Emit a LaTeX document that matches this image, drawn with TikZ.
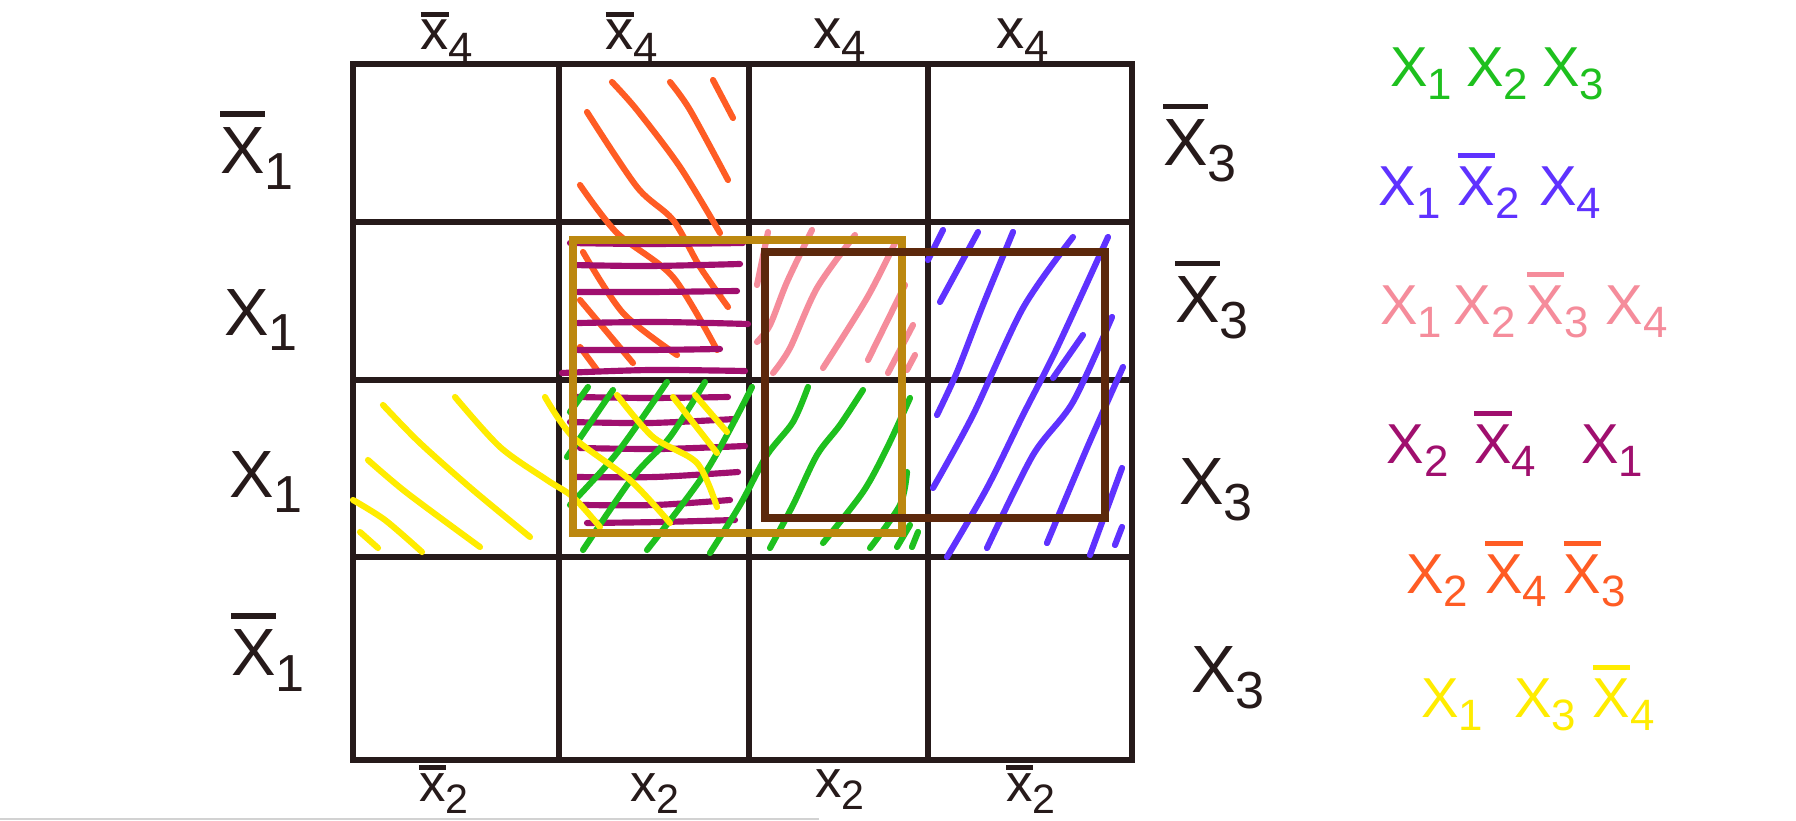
\documentclass[tikz,border=0pt]{standalone}
\usepackage{fontspec}
\setmainfont{Liberation Sans}
\usepackage{graphicx}
\definecolor{ink}{RGB}{38,26,26}
\definecolor{cgreen}{RGB}{30,192,30}
\definecolor{cblue}{RGB}{95,50,255}
\definecolor{cpink}{RGB}{245,140,155}
\definecolor{cpurple}{RGB}{160,15,110}
\definecolor{corange}{RGB}{255,92,36}
\definecolor{cyellow}{RGB}{255,236,0}
\definecolor{cgold}{RGB}{188,136,16}
\definecolor{cbrown}{RGB}{92,40,12}
\newcommand{\sbs}[1]{\raisebox{-0.45ex}{\scalebox{0.78}{#1}}}
\newcommand{\ovl}[1]{\leavevmode\setbox0\hbox{#1}\rlap{\rule[\dimexpr\ht0+0.16em\relax]{\wd0}{0.085em}}\box0}
\newcommand{\ovs}[1]{\leavevmode\setbox0\hbox{#1}\rlap{\rule[\dimexpr\ht0+0.06em\relax]{\wd0}{0.09em}}\box0}
\begin{document}
\begin{tikzpicture}[x=0.01cm,y=-0.01cm,
  gridline/.style={draw=ink,line width=1.45pt,line cap=round},
  hat/.style={line width=1.75pt,line cap=round,line join=round},
  boxline/.style={line width=2.1pt},
  lblbig/.style={text=ink,font=\fontsize{19}{23}\selectfont,inner sep=0pt},
  lblsmall/.style={text=ink,font=\fontsize{16}{20}\selectfont,inner sep=0pt,anchor=base},
  lblbottom/.style={text=ink,font=\fontsize{15}{18}\selectfont,inner sep=0pt,anchor=base},
  legend/.style={font=\fontsize{16}{20}\selectfont,inner sep=0pt}]
\useasboundingbox (0,0) rectangle (1796,821);
\fill[white] (0,0) rectangle (1796,821);
% bottom strip line
\draw[gray!35,line width=0.6pt] (0,819) -- (819,819);
% grid
\draw[gridline] (353,64) rectangle (1132,760);
\foreach \xx in {559,749,928} \draw[gridline] (\xx,64) -- (\xx,760);
\foreach \yy in {222,380,557} \draw[gridline] (353,\yy) -- (1132,\yy);
% orange hatch
\begin{scope}[hat,draw=corange]
\draw plot[smooth] coordinates {(612,82) (637,110) (680,167) (720,233)};
\draw plot[smooth] coordinates {(670,82) (690,110) (728,180)};
\draw plot[smooth] coordinates {(713,80) (733,118)};
\draw plot[smooth] coordinates {(587,112) (637,187) (673,220) (700,267) (728,307)};
\draw plot[smooth] coordinates {(580,185) (617,233) (673,277) (717,350)};
\draw plot[smooth] coordinates {(583,252) (623,313) (677,355)};
\draw plot[smooth] coordinates {(580,300) (633,363)};
\draw plot[smooth] coordinates {(580,347) (597,370)};
\end{scope}
% purple hatch
\begin{scope}[hat,draw=cpurple]
\draw plot[smooth] coordinates {(570,243) (650,244) (743,243)};
\draw plot[smooth] coordinates {(573,265) (650,266) (740,264)};
\draw plot[smooth] coordinates {(578,292) (650,292) (737,291)};
\draw plot[smooth] coordinates {(578,323) (660,322) (748,324)};
\draw plot[smooth] coordinates {(578,350) (650,350) (720,349)};
\draw plot[smooth] coordinates {(562,373) (650,370) (745,371)};
\draw plot[smooth] coordinates {(577,397) (650,398) (728,397)};
\draw plot[smooth] coordinates {(570,422) (650,423) (735,419)};
\draw plot[smooth] coordinates {(580,448) (660,449) (745,446)};
\draw plot[smooth] coordinates {(577,477) (655,477) (738,472)};
\draw plot[smooth] coordinates {(583,505) (655,505) (730,500)};
\draw plot[smooth] coordinates {(587,523) (660,522) (735,520)};
\end{scope}
% green hatch
\begin{scope}[hat,draw=cgreen]
\draw plot[smooth] coordinates {(588,387) (570,412)};
\draw plot[smooth] coordinates {(613,390) (567,457)};
\draw plot[smooth] coordinates {(667,382) (617,453) (570,505)};
\draw plot[smooth] coordinates {(705,382) (670,437) (633,477) (583,550)};
\draw plot[smooth] coordinates {(752,387) (707,470) (647,550)};
\draw plot[smooth] coordinates {(808,387) (793,422) (767,455) (740,505) (710,553)};
\draw plot[smooth] coordinates {(863,390) (840,425) (817,455) (793,505) (770,548)};
\draw plot[smooth] coordinates {(910,398) (887,448) (863,492) (823,543)};
\draw plot[smooth] coordinates {(907,472) (900,505) (870,548)};
\draw plot[smooth] coordinates {(910,525) (897,547)};
\draw plot[smooth] coordinates {(918,532) (912,547)};
\end{scope}
% yellow hatch
\begin{scope}[hat,draw=cyellow]
\draw plot[smooth] coordinates {(383,405) (420,443) (473,490) (530,537)};
\draw plot[smooth] coordinates {(455,397) (500,447) (547,480) (573,497) (600,527)};
\draw plot[smooth] coordinates {(368,460) (407,493) (480,547)};
\draw plot[smooth] coordinates {(353,500) (385,520) (422,552)};
\draw plot[smooth] coordinates {(360,532) (378,548)};
\draw plot[smooth] coordinates {(545,397) (573,437) (630,480) (670,523)};
\draw plot[smooth] coordinates {(617,395) (653,437) (697,463) (717,507)};
\draw plot[smooth] coordinates {(673,397) (717,453)};
\draw plot[smooth] coordinates {(695,395) (727,432)};
\end{scope}
% pink hatch
\begin{scope}[hat,draw=cpink]
\draw plot[smooth] coordinates {(768,232) (757,285)};
\draw plot[smooth] coordinates {(812,230) (787,282) (770,325) (757,342)};
\draw plot[smooth] coordinates {(855,235) (817,288) (790,348) (773,373)};
\draw plot[smooth] coordinates {(895,243) (867,298) (823,368)};
\draw plot[smooth] coordinates {(905,285) (868,360)};
\draw plot[smooth] coordinates {(913,325) (888,373)};
\draw plot[smooth] coordinates {(915,355) (907,370)};
\end{scope}
% blue hatch
\begin{scope}[hat,draw=cblue]
\draw plot[smooth] coordinates {(943,230) (928,260)};
\draw plot[smooth] coordinates {(978,232) (940,302)};
\draw plot[smooth] coordinates {(1013,232) (983,305) (957,372) (937,415)};
\draw plot[smooth] coordinates {(1073,237) (1023,308) (973,415) (933,488)};
\draw plot[smooth] coordinates {(1108,237) (1057,348) (1023,415) (987,488) (947,557)};
\draw plot[smooth] coordinates {(1083,335) (1053,378)};
\draw plot[smooth] coordinates {(1112,317) (1073,402) (1033,455) (987,548)};
\draw plot[smooth] coordinates {(1123,367) (1087,448) (1047,543)};
\draw plot[smooth] coordinates {(1122,468) (1090,555)};
\draw plot[smooth] coordinates {(1122,527) (1115,545)};
\end{scope}
% group boxes
\draw[boxline,draw=cgold] (573,240) rectangle (902,533);
\draw[boxline,draw=cbrown] (765,252) rectangle (1105,518);
% top labels
\node[lblsmall] (t1) at (447,50) {\ovs{x}\sbs{4}};
\node[lblsmall] (t2) at (632,50) {\ovs{x}\sbs{4}};
\node[lblsmall] (t3) at (840,48) {x\sbs{4}};
\node[lblsmall] (t4) at (1023,48) {x\sbs{4}};
% bottom labels
\node[lblbottom] (b1) at (444,801) {\ovs{x}\sbs{2}};
\node[lblbottom] (b2) at (655,801) {x\sbs{2}};
\node[lblbottom] (b3) at (840,797) {x\sbs{2}};
\node[lblbottom] (b4) at (1031,801) {\ovs{x}\sbs{2}};
% left labels
\node[lblbig] (l1) at (257,150) {\ovl{X}\sbs{1}};
\node[lblbig] (l2) at (261,320) {X\sbs{1}};
\node[lblbig] (l3) at (266,482) {X\sbs{1}};
\node[lblbig] (l4) at (268,652) {\ovl{X}\sbs{1}};
% right labels
\node[lblbig] (r1) at (1200,143) {\ovl{X}\sbs{3}};
\node[lblbig] (r2) at (1212,300) {\ovl{X}\sbs{3}};
\node[lblbig] (r3) at (1216,490) {X\sbs{3}};
\node[lblbig] (r4) at (1228,678) {X\sbs{3}};
% legend
\node[legend,text=cgreen] (g1) at (1497,74) {X\sbs{1}\hspace{0.25em}X\sbs{2}\hspace{0.25em}X\sbs{3}};
\node[legend,text=cblue] (g2) at (1490,186) {X\sbs{1}\hspace{0.3em}\ovl{X}\sbs{2}\hspace{0.35em}X\sbs{4}};
\node[legend,text=cpink] (g3) at (1524,305) {X\sbs{1}\hspace{0.2em}X\sbs{2}\hspace{0.2em}\ovl{X}\sbs{3}\hspace{0.3em}X\sbs{4}};
\node[legend,text=cpurple] (g4) at (1515,444) {X\sbs{2}\hspace{0.45em}\ovl{X}\sbs{4}\hspace{0.8em}X\sbs{1}};
\node[legend,text=corange] (g5) at (1516,574) {X\sbs{2}\hspace{0.3em}\ovl{X}\sbs{4}\hspace{0.3em}\ovl{X}\sbs{3}};
\node[legend,text=cyellow] (g6) at (1538,698) {X\sbs{1}\hspace{0.55em}X\sbs{3}\hspace{0.3em}\ovl{X}\sbs{4}};
\end{tikzpicture}
\end{document}
